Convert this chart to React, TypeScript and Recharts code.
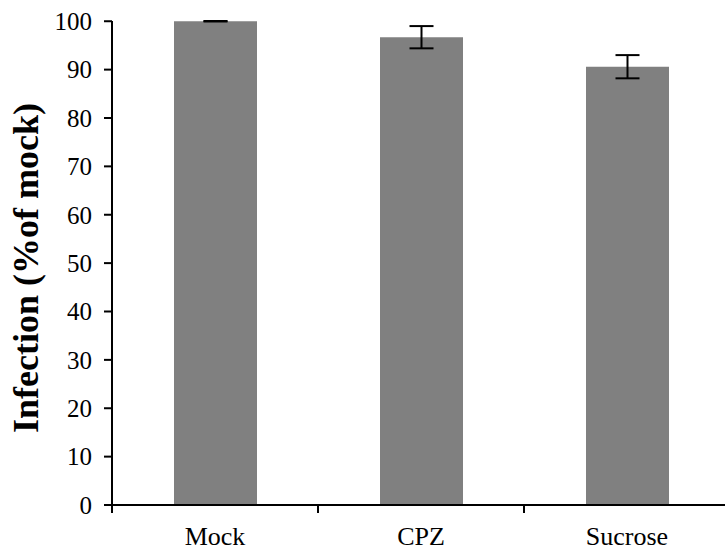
import React from 'react';
import { BarChart, Bar, XAxis, YAxis, ErrorBar, Label } from 'recharts';

const categories = ['Mock', 'CPZ', 'Sucrose'];
const infection = [100, 96.7, 90.6];
const errors = [0.05, 2.3, 2.4];
const yTicks = [0, 10, 20, 30, 40, 50, 60, 70, 80, 90, 100];

const data = categories.map((name, i) => ({ name, value: infection[i], err: errors[i] }));

const FONT = 'Liberation Serif';
const CHART_W = 730;
const CHART_H = 552;
const Y_AXIS_W = 112;
const halfBand = (CHART_W - Y_AXIS_W) / categories.length / 2;

const CategoryTick = (props: any) => {
    const { x, y, payload, index } = props;
    return (
        <g>
            <line x1={x + halfBand} y1={y} x2={x + halfBand} y2={y + 8} stroke="#000" strokeWidth={2} />
            {index === 0 && <line x1={x - halfBand} y1={y} x2={x - halfBand} y2={y + 8} stroke="#000" strokeWidth={2} />}
            <text x={x} y={y + 40} textAnchor="middle" style={{ fontFamily: FONT, fontSize: 26 }} fill="#000">
                {payload.value}
            </text>
        </g>
    );
};

export default function App() {
    return (
        <div style={{ position: 'absolute', left: 0, top: 0, width: 725, height: 552, overflow: 'hidden', background: '#fff' }}>
            <BarChart width={CHART_W} height={CHART_H} data={data} margin={{ top: 21, right: 0, left: 0, bottom: 0 }}>
                <XAxis
                    dataKey="name"
                    height={47}
                    axisLine={{ stroke: '#000', strokeWidth: 2 }}
                    tickLine={false}
                    tickSize={0}
                    tickMargin={0}
                    tick={<CategoryTick />}
                    interval={0}
                />
                <YAxis
                    width={Y_AXIS_W}
                    domain={[0, 100]}
                    ticks={yTicks}
                    interval={0}
                    axisLine={{ stroke: '#000', strokeWidth: 2 }}
                    tickLine={{ stroke: '#000', strokeWidth: 2 }}
                    tickSize={8}
                    tickMargin={12}
                    tick={{ fill: '#000', fontSize: 25, fontFamily: FONT }}
                >
                    <Label
                        content={({ viewBox }: any) => {
                            const cx = 38;
                            const cy = viewBox.y + viewBox.height / 2 + 5;
                            return (
                                <text
                                    x={cx}
                                    y={cy}
                                    transform={`rotate(-90, ${cx}, ${cy})`}
                                    textAnchor="middle"
                                    style={{ fontFamily: FONT, fontWeight: 'bold', fontSize: 36 }}
                                    fill="#000"
                                >
                                    Infection (%of mock)
                                </text>
                            );
                        }}
                    />
                </YAxis>
                <Bar dataKey="value" fill="#808080" barSize={83} isAnimationActive={false}>
                    <ErrorBar dataKey="err" width={12} stroke="#000" strokeWidth={2} />
                </Bar>
            </BarChart>
        </div>
    );
}
